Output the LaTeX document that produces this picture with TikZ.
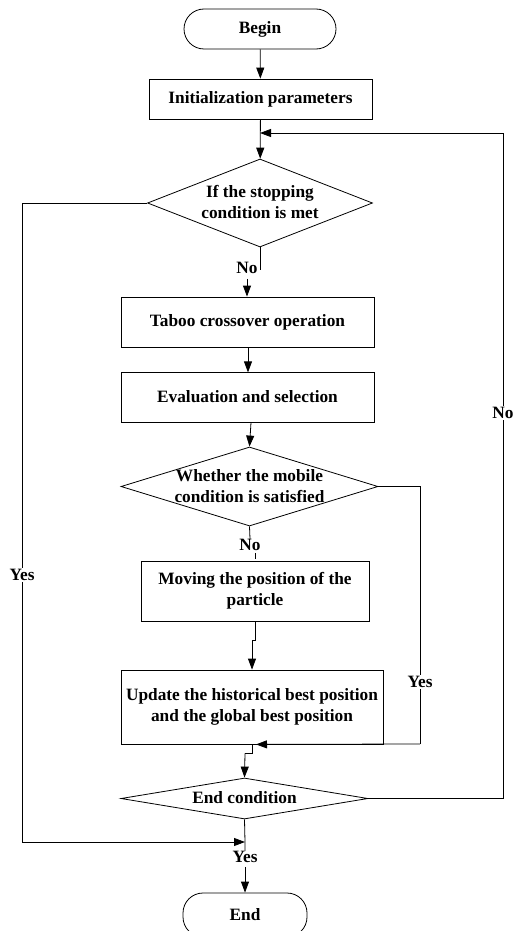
\documentclass[tikz,border=0pt]{standalone}
\usepackage{fontspec}
\setmainfont{Liberation Serif}
\usetikzlibrary{arrows.meta,shapes.geometric}
\newcommand\dtext[1]{\smash{\makebox[0pt]{\raisebox{-0.3em}{\begin{tabular}{@{}c@{}}#1\end{tabular}}}}}
\begin{document}
\begin{tikzpicture}[x=1pt,y=1pt,
  every node/.style={font=\fontsize{17.3}{21}\selectfont\bfseries, inner sep=0pt, align=center},
  term/.style={draw, rounded corners=20pt, line width=0.8pt},
  proc/.style={draw, rectangle, line width=0.8pt},
  dia/.style={draw, diamond, line width=0.8pt},
  conn/.style={line width=0.8pt},
  arr/.style={line width=0.8pt, -{Triangle[length=11pt,width=8pt]}},
  lbl/.style={fill=white, inner sep=1pt}]
\useasboundingbox (0,0) rectangle (512,-931);
\node[term, minimum width=152pt, minimum height=40pt] (begin) at (260,-29) {Begin};
\node[proc, minimum width=223pt, minimum height=40pt] (init) at (260.5,-99) {Initialization parameters};
\node[dia, minimum width=225pt, minimum height=88pt] (d1) at (260,-203) {\dtext{If the stopping\\condition is met}};
\node[proc, minimum width=253pt, minimum height=50pt] (taboo) at (247.5,-322) {Taboo crossover operation};
\node[proc, minimum width=253pt, minimum height=50pt] (eval) at (247.5,-397) {Evaluation and selection};
\node[dia, minimum width=257pt, minimum height=79pt] (d2) at (249.5,-486.5) {\dtext{Whether the mobile\\condition is satisfied}};
\node[proc, minimum width=228pt, minimum height=60pt] (move) at (255,-591) {Moving the position of the\\particle};
\node[proc, minimum width=262pt, minimum height=74pt] (upd) at (252,-707) {Update the historical best position\\and the global best position};
\node[dia, minimum width=247pt, minimum height=41pt] (endc) at (244.5,-798.5) {\dtext{End condition}};
\node[term, minimum width=124pt, minimum height=44pt] (end) at (245,-915) {\raisebox{2pt}{End}};

\node (no1) at (247,-268) {No};
\node (no2) at (250,-545) {No};
\node[lbl] (yes1) at (22,-575) {Yes};
\node[lbl] (yes2) at (420,-682) {Yes};
\node[lbl] (no3) at (503,-413) {No};
\node (yes3) at (245,-857) {Yes};

\coordinate (merge1) at (260,-133);
\coordinate (merge2) at (245,-842);

\draw[arr] (begin) -- (init);
\draw[arr] (init) -- (d1);
\draw[conn] (d1.south) -- ++(0,-23);
\draw[arr] (no1.south) ++(0,-5) -- (no1.south |- taboo.north);
\draw[arr] (taboo.south -| eval.north) ++(0.5,0) -- ++(0,-25);
\draw[arr] (eval.south) ++(3.5,0) -- (d2.north);
\draw[conn] (d2.south) -- (no2.north);
\draw[conn] (no2.south) ++(5,-2) -- ++(0,-6);
\draw[conn] (move.south) -- ++(0,-19) -- ++(-3,0);
\draw[arr] (move.south) ++(-3,-19) -- (upd.north);
\draw[conn] (d2.east) -- (420,-486.5) -- (yes2) -- (420,-744);
\draw[arr] (420,-744) -- (upd.south -| 256,0);
\draw[conn] (upd.south) -- ++(0,-9) -- ++(-7,0);
\draw[arr] (upd.south) ++(-7,-9) -- (endc.north);
\draw[conn] (endc.east) -- (503,-798.5) -- (no3) -- (503,-133);
\draw[arr] (503,-133) -- (merge1);
\draw[conn] (d1.west) -- (22,-203) -- (yes1) -- (22,-842);
\draw[arr] (22,-842) -- (merge2);
\draw[conn] (endc.south) -- (merge2) -- (yes3.north);
\draw[arr] (yes3.south) ++(0,-4) -- (end.north);
\end{tikzpicture}
\end{document}
